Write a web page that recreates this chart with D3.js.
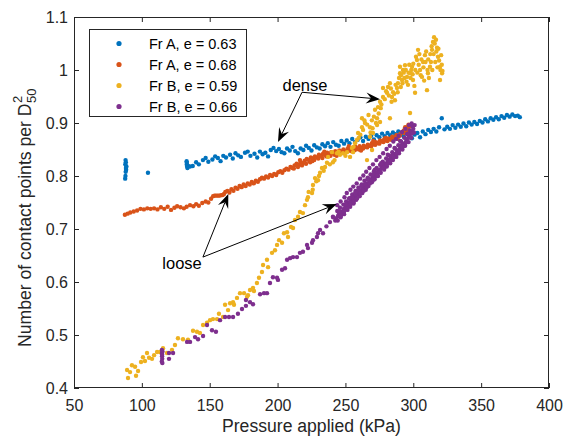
<!DOCTYPE html>
<html><head><meta charset="utf-8">
<script src="https://cdn.jsdelivr.net/npm/d3@7"></script>
<style>body{margin:0;background:#fff}svg{display:block}text{font-family:"Liberation Sans",Arial,sans-serif}</style>
</head><body><svg id="c" width="564" height="440"></svg>
<script>
const xTicks=[50,100,150,200,250,300,350,400];
const yTicks=[0.4,0.5,0.6,0.7,0.8,0.9,1.0,1.1];
const seriesNames=["Fr A, e = 0.63","Fr A, e = 0.68","Fr B, e = 0.59","Fr B, e = 0.66"];
const seriesColors=["#0072BD","#D95319","#EDB120","#7E2F8E"];

const blueData=[[88.0,0.830],[87.8,0.822],[88.3,0.815],[88.1,0.808],[87.9,0.800],[88.4,0.812],[88.6,0.818],[87.7,0.795],[88.2,0.826],
[104.5,0.806],
[133.0,0.828],[133.2,0.822],[133.4,0.818],[133.1,0.825],[133.6,0.815],[133.3,0.820],[134.0,0.819],[135.5,0.818],[137.5,0.819],
[140,0.826],[142,0.822],[145,0.830],[147,0.834],[149,0.827],[152,0.831],[154,0.837],[156,0.834],[158,0.828],[160,0.838],[162,0.835],[165,0.840],[167,0.833],[169,0.843],[171,0.839],[173,0.836],[176,0.844],[178,0.846],[180,0.838],[183,0.842],[185,0.835],[187,0.846],[189,0.841],[191,0.844],[193,0.837],[195,0.849],[197,0.853],[199,0.847],[201,0.851],[203,0.845],[205,0.843],[207,0.852],[209,0.848],[211,0.855],[213,0.847],[215,0.843],[217,0.852],[219,0.849],[221,0.857],[223,0.853],[225,0.848],[227,0.858],[229,0.854],[231,0.852],[233,0.860],[235,0.856],[237,0.862],[239,0.855],[241,0.864],[243,0.859],[245,0.857],[247,0.866],[249,0.861],[251,0.867],[253,0.862],[255,0.870],[257,0.864],[259,0.868],[261,0.873],[263,0.866],[265,0.874],[267,0.870],[269,0.876],[271,0.869],[273,0.877],[275,0.873],[277,0.880],[279,0.875],[281,0.881],[283,0.877],[285,0.882],[287,0.879],[289,0.884],[291,0.878],[293,0.874],[295,0.882],[297,0.876],[299,0.871],[301,0.878],[303,0.881],[305,0.873],[307,0.884],[309,0.879],[311,0.887],[313,0.883],[315,0.889],[317,0.884],[319,0.892],[321,0.909],[323,0.888],[325,0.893],[327,0.889],[329,0.896],[331,0.891],[333,0.897],[335,0.893],[337,0.899],[339,0.894],[341,0.901],[343,0.897],[345,0.902],[347,0.898],[349,0.904],[351,0.901],[353,0.907],[355,0.903],[357,0.909],[359,0.906],[361,0.911],[363,0.907],[365,0.913],[367,0.910],[369,0.915],[371,0.912],[373,0.916],[375,0.913],[377,0.914],[378.5,0.911]];

const orangeData=[[87.5,0.727],[89.5,0.729],[91.5,0.731],[94,0.733],[96.5,0.735],[99,0.738],[101.5,0.737],[104,0.739],[106.5,0.738],[109,0.739],[111.5,0.737],[114,0.741],[116.5,0.738],[119,0.742],[121.5,0.736],[124,0.740],[126,0.743],[128.5,0.741],[131,0.739],[133,0.742],[135.5,0.745],[138,0.743],[140,0.747],[142,0.744],[144.5,0.749],[147,0.752],[149,0.750],[151,0.757],[152.5,0.762],[153.5,0.763],[154.5,0.763],[155.5,0.763],[156.5,0.763],[157.5,0.763],[158.5,0.764],[159.5,0.764],[160.5,0.766],[161.5,0.770],[163,0.772],[164.5,0.769],[166,0.775],[167.5,0.772],[169,0.778],[170.5,0.776],[172,0.781],[173.5,0.779],[175,0.784],[176.5,0.781],[178,0.786],[179.5,0.784],[181,0.789],[182.5,0.786],[184,0.791],[185.5,0.789],[187,0.794],[188.5,0.797],[190,0.795],[191.5,0.799],[193,0.797],[194.5,0.802],[196,0.800],[197.5,0.804],[199,0.802],[200.5,0.807],[202,0.809],[203.5,0.806],[205,0.811],[206.5,0.814],[208,0.812],[209.5,0.817],[211,0.815],[212.5,0.820],[214,0.823],[215.5,0.821],[217,0.826],[218.5,0.824],[220,0.829],[221.5,0.832],[223,0.830],[224.5,0.835],[226,0.833],[227.5,0.837],[229,0.835],[230.5,0.840],[232,0.838],[233.5,0.842],[235,0.840],[236.5,0.844],[238,0.841],[239.5,0.845],[241,0.843],[242.5,0.847],[244,0.844],[245.5,0.848],[247,0.846],[248.5,0.850],[250,0.847],[251.5,0.851],[253,0.849],[254.5,0.853],[256,0.850],[257.5,0.855],[259,0.852],[260.5,0.856],[262,0.853],[263.5,0.857],[265,0.855],[266.5,0.859],[268,0.857],[269.5,0.862],[271,0.860],[272.5,0.864],[274,0.862],[275.5,0.867],[277,0.865],[278.5,0.869],[280,0.867],[281.5,0.871],[283,0.869],[284.5,0.874],[286,0.872],[287.5,0.877],[289,0.875],[290.5,0.880],[292,0.883],[293.5,0.881],[295,0.886],[296,0.890],[297,0.893],[295.5,0.892],[293,0.886],[290,0.876],[287,0.872],[284,0.869],[281,0.866],[278,0.864],[275,0.861],[272,0.859],[269,0.856],[266,0.854],[263,0.852],[260,0.850],[257,0.849],[254,0.847],[251,0.846],[248,0.844],[245,0.842],[242,0.840],[239,0.838],[236,0.837],[233,0.834],[230,0.833],[227,0.830],[224,0.826],[221,0.823],[218,0.820],[215,0.817],[212,0.814],
[216.5,0.830],[225.5,0.828],[234.5,0.846],[243.5,0.838],[252.5,0.856],[261.5,0.848],[270.5,0.866],[279.5,0.872],[288.5,0.870],[294,0.892],[296.5,0.897]];

const yellowData=[[89.1,0.434],[91.3,0.430],[89.8,0.419],[92.7,0.443],[95.0,0.440],[95.7,0.423],[97.2,0.432],[99.4,0.449],[100.8,0.458],[102.3,0.451],[103.8,0.466],[105.3,0.457],[107.5,0.455],[109.0,0.462],[111.2,0.468],[113.4,0.468],[115.6,0.475],[118.5,0.466],[122.2,0.472],[124.4,0.481],[126.6,0.494],[130.3,0.492],[134.0,0.491],[137.7,0.508],[140.6,0.506],[142.8,0.504],[145.1,0.519],[148.0,0.523],[150.2,0.528],[152.4,0.530],[155.4,0.530],[156.8,0.540],[159.8,0.534],[161.3,0.557],[163.5,0.547],[165.0,0.560],[167.2,0.562],[167.9,0.557],[170.1,0.570],[172.3,0.579],[175.3,0.579],[177.5,0.572],[178.2,0.575],[179.7,0.585],[181.9,0.589],[182.6,0.583],[184.8,0.598],[186.3,0.608],[188.5,0.619],[189.3,0.632],[192.2,0.642],[193.0,0.628],[195.9,0.655],[198.1,0.660],[199.6,0.670],[201.1,0.679],[203.3,0.674],[204.7,0.692],[207.0,0.694],[207.7,0.685],[209.9,0.704],[211.4,0.702],[212.8,0.717],[215.1,0.723],[216.5,0.732],[218.7,0.730],[220.2,0.745],[221.7,0.755],[222.4,0.760],[222.9,0.770],[225.4,0.768],[225.9,0.774],[226.1,0.783],[227.6,0.796],[228.5,0.790],[229.8,0.792],[230.5,0.800],[231.3,0.806],[232.7,0.815],[234.0,0.810],[235.0,0.817],[236.4,0.825],[237.2,0.836],[238.5,0.822],[240.1,0.845],[240.8,0.826],[242.0,0.830],[243.8,0.843],[245.0,0.846],[246.0,0.840],[248.2,0.843],[250.0,0.838],[251.2,0.845],[253.4,0.836],[254.8,0.853],[255.6,0.845],[256.0,0.855],[257.1,0.862],[258.5,0.868],[259.3,0.881],[259.8,0.872],[261.0,0.878],[262.2,0.892],[263.0,0.887],[262.2,0.909],[264.0,0.905],[264.4,0.900],[265.9,0.830],[266.0,0.897],[267.0,0.915],[268.1,0.874],[268.1,0.892],[268.5,0.882],[269.6,0.849],[269.5,0.905],[270.0,0.890],[270.3,0.881],[271.0,0.912],[271.8,0.925],[272.5,0.900],[273.3,0.896],[273.3,0.909],[274.0,0.930],[274.5,0.918],[275.5,0.902],[275.5,0.940],[276.0,0.928],[276.5,0.935],[277.7,0.949],[277.7,0.966],[279.0,0.945],[280.0,0.960],[280.6,0.957],[281.4,0.968],[282.0,0.952],[282.8,0.975],[282.8,0.909],[283.5,0.965],[284.0,0.940],[284.3,0.949],[285.1,0.958],[286.0,0.955],[286.5,0.943],[287.0,0.972],[288.0,0.966],[288.5,0.958],[288.7,0.975],[289.5,0.985],[290.2,0.994],[290.2,1.006],[290.8,0.968],[291.0,0.990],[291.7,0.981],[292.0,0.975],[292.4,1.000],[293.0,0.995],[293.5,0.985],[293.9,1.009],[294.5,1.000],[295.0,0.978],[295.4,0.987],[296.1,0.972],[296.5,0.995],[297.0,1.010],[297.6,0.994],[297.6,0.919],[298.0,0.985],[298.5,1.000],[299.1,1.006],[299.5,0.992],[299.8,0.981],[300.0,1.012],[300.8,0.970],[301.3,0.957],[301.5,1.000],[302.0,1.025],[302.7,1.019],[303.0,0.995],[303.5,1.038],[304.0,1.010],[304.5,1.030],[305.0,1.000],[305.5,0.990],[306.0,1.020],[306.4,0.987],[307.2,1.015],[307.5,1.005],[308.0,0.980],[308.6,1.028],[309.0,1.015],[309.5,1.035],[310.1,0.962],[310.5,1.000],[310.8,0.994],[311.0,1.020],[311.5,0.985],[312.3,1.006],[312.5,1.030],[313.0,1.015],[313.5,1.045],[313.8,1.038],[314.0,1.000],[314.5,1.053],[315.0,1.030],[315.3,1.062],[315.8,1.050],[316.2,1.015],[316.7,1.057],[317.0,1.035],[317.5,1.042],[317.8,1.005],[318.2,1.025],[318.5,1.040],[319.0,1.018],[319.7,1.006],[319.7,0.981],[320.0,1.000],[320.5,1.028],[321.0,1.010],[321.2,0.994],[321.5,0.998]];

const purpleData=[[114.8,0.472],[114.8,0.466],[114.9,0.460],[115.0,0.455],[114.7,0.450],[115.1,0.447],[114.9,0.463],[115.2,0.469],[120.0,0.466],[120.0,0.455],[123.0,0.466],[133.3,0.487],[135.5,0.487],[139.2,0.496],[141.4,0.492],[145.1,0.498],[148.0,0.519],[151.7,0.509],[154.6,0.506],[157.6,0.528],[161.3,0.534],[164.2,0.534],[167.2,0.534],[170.8,0.540],[173.8,0.549],[176.7,0.555],[176.7,0.566],[179.7,0.562],[181.9,0.558],[187.1,0.577],[190.0,0.579],[192.2,0.579],[194.4,0.598],[196.6,0.609],[199.6,0.608],[200.3,0.604],[203.3,0.623],[205.5,0.626],[207.0,0.642],[209.2,0.645],[211.4,0.647],[214.3,0.647],[216.5,0.655],[218.7,0.657],[221.7,0.670],[222.4,0.664],[225.4,0.674],[226.1,0.679],[229.0,0.685],[229.8,0.692],[231.3,0.698],[233.5,0.692],[236.0,0.705],[238.6,0.713],[240.8,0.723],
[243,0.720],[244,0.734],[245,0.727],[246,0.740],[246.5,0.722],[247.5,0.733],[248.5,0.746],[249,0.728],[250,0.740],[250.5,0.752],[251.5,0.736],[252,0.748],[253,0.758],[253.5,0.742],[254.5,0.753],[255,0.765],[256,0.748],[256.5,0.760],[257.5,0.772],[258,0.755],[259,0.766],[259.5,0.778],[260.5,0.762],[261,0.773],[262,0.784],[262.5,0.768],[263.5,0.779],[264,0.791],[265,0.774],[265.5,0.786],[266.5,0.797],[267,0.781],[268,0.792],[268.5,0.803],[269.5,0.788],[270,0.799],[271,0.809],[271.5,0.794],[272.5,0.805],[273,0.815],[274,0.800],[274.5,0.811],[275.5,0.821],[276,0.806],[277,0.817],[277.5,0.827],[278.5,0.812],[279,0.823],[280,0.833],[280.5,0.818],[281.5,0.829],[282,0.839],[283,0.824],[283.5,0.835],[284.5,0.845],[285,0.830],[286,0.841],[286.5,0.852],[287.5,0.836],[288,0.848],[289,0.858],[289.5,0.843],[290.5,0.854],[291,0.865],[292,0.850],[292.5,0.861],[293.5,0.872],[294,0.857],[295,0.868],[295.5,0.879],[296.5,0.864],[297,0.876],[297.5,0.886],[298.5,0.872],[299,0.884],[299.5,0.894],[300.5,0.882],[301,0.896],[300,0.889],[298,0.880],[296,0.871],[294.5,0.863],[292.8,0.856],[291.2,0.858],[289.8,0.850],[287.8,0.842],[285.8,0.836],[284,0.838],[282.5,0.831],[280.8,0.825],[279,0.817],[277.2,0.821],[275.8,0.813],[274,0.807],[272.2,0.799],[270.5,0.803],[269,0.794],[267.2,0.787],[265.8,0.781],[264,0.784],[262.8,0.776],[261,0.768],[259.2,0.772],[257.8,0.764],[256.2,0.755],[254.8,0.760],[253.2,0.750],[251.8,0.744],[250.2,0.746],[248.8,0.738],[247.2,0.730],[245.5,0.733],[244.5,0.724],[242.5,0.716],[241,0.722],
[244,0.745],[244.3,0.716],[246.5,0.752],[246.8,0.726],[249,0.733],[249.3,0.760],[251,0.768],[251.3,0.739],[253.7,0.774],[253.9,0.747],[255.8,0.780],[256.1,0.751],[258.3,0.786],[258.6,0.758],[260.8,0.795],[261.1,0.767],[263.2,0.801],[263.5,0.772],[265.3,0.808],[265.6,0.779],[267.7,0.815],[268,0.786],[270.3,0.822],[270.6,0.793],[272.8,0.830],[273.1,0.801],[275.2,0.836],[275.5,0.807],[277.8,0.843],[278.1,0.815],[280.3,0.851],[280.6,0.822],[282.7,0.857],[283,0.829],[285.3,0.865],[285.6,0.836],[287.3,0.870],[287.6,0.843],[289.2,0.876],[289.5,0.848],[291.7,0.883],[292,0.856],[294.2,0.889],[294.5,0.864],[296.8,0.896],[297.1,0.873],[298.8,0.899],[299.1,0.880],
[252.7,0.757],[257.3,0.769],[261.7,0.781],[266.2,0.794],[271.7,0.812],[276.3,0.824],[281.2,0.840],[286.2,0.853],[290.3,0.866],[295.8,0.880]];

const allSeries=[blueData,orangeData,yellowData,purpleData];

// annotations in data units
const annoTexts=[{t:"dense",at:[220.2,0.972]},{t:"loose",at:[129.6,0.636]}];
const annoArrows=[
 {from:[218,0.958],to:[275.5,0.945]},
 {from:[218,0.958],to:[200.3,0.864]},
 {from:[145,0.647],to:[163.7,0.766]},
 {from:[145,0.647],to:[243.6,0.747]}
];

const svg=d3.select("#c");
const L=74,R=549,T=17,B=388;
const x=d3.scaleLinear().domain([50,400]).range([L,R]);
const y=d3.scaleLinear().domain([0.4,1.1]).range([B,T]);
const ink="#262626";

allSeries.forEach((s,i)=>{
  svg.append("g").selectAll("circle").data(s).join("circle")
    .attr("cx",d=>x(d[0])).attr("cy",d=>y(d[1])).attr("r",2.2)
    .attr("fill",seriesColors[i]);
});

function styleAxis(g){g.select(".domain").remove();g.selectAll("line").attr("stroke",ink);g.selectAll("text").attr("fill",ink).attr("font-size","16px").attr("font-family","Liberation Sans, Arial, sans-serif");}
svg.append("g").attr("transform",`translate(0,${B})`).call(d3.axisBottom(x).tickValues(xTicks).tickSize(-5).tickSizeOuter(0).tickPadding(12)).call(styleAxis);
svg.append("g").attr("transform",`translate(0,${T})`).call(d3.axisTop(x).tickValues(xTicks).tickSize(-5).tickSizeOuter(0).tickFormat("")).call(styleAxis);
svg.append("g").attr("transform",`translate(${L},0)`).call(d3.axisLeft(y).tickValues(yTicks).tickSize(-5).tickSizeOuter(0).tickPadding(6).tickFormat(d=>String(+d.toFixed(1)))).call(styleAxis);
svg.append("g").attr("transform",`translate(${R},0)`).call(d3.axisRight(y).tickValues(yTicks).tickSize(-5).tickSizeOuter(0).tickFormat("")).call(styleAxis);
svg.append("rect").attr("x",L+0.5).attr("y",T+0.5).attr("width",R-L-1).attr("height",B-T-1).attr("fill","none").attr("stroke",ink).attr("stroke-width",1);

svg.append("text").attr("x",(L+R)/2).attr("y",432).attr("text-anchor","middle").attr("font-size","17.6px").attr("fill",ink).text("Pressure applied (kPa)");
const yl=svg.append("g").attr("transform","translate(31,347) rotate(-90)");
const ymain=yl.append("text").attr("x",0).attr("y",0).attr("font-size","17.6px").attr("fill",ink).text("Number of contact points per D");
const len=ymain.node().getComputedTextLength();
yl.append("text").attr("x",len+0.5).attr("y",5).attr("font-size","13px").attr("fill",ink).text("50");
yl.append("text").attr("x",len+0.5).attr("y",-9).attr("font-size","13px").attr("fill",ink).text("2");

annoTexts.forEach(a=>{
  svg.append("text").attr("x",x(a.at[0])).attr("y",y(a.at[1])).attr("text-anchor","middle").attr("dy","0.35em").attr("font-size","16.5px").attr("fill","#000").text(a.t);
});
annoArrows.forEach(a=>{
  const x0=x(a.from[0]),y0=y(a.from[1]),x1=x(a.to[0]),y1=y(a.to[1]);
  const ang=Math.atan2(y1-y0,x1-x0);
  const hl=14,hw=5.5,notch=9;
  const c=Math.cos(ang),s=Math.sin(ang);
  const bx=x1-hl*c,by=y1-hl*s;
  const nx=x1-notch*c,ny=y1-notch*s;
  svg.append("line").attr("x1",x0).attr("y1",y0).attr("x2",nx).attr("y2",ny).attr("stroke","#000").attr("stroke-width",1);
  const pts=[[x1,y1],[bx-hw*s,by+hw*c],[nx,ny],[bx+hw*s,by-hw*c]];
  svg.append("polygon").attr("points",pts.map(p=>p.join(",")).join(" ")).attr("fill","#000");
});

const lg=svg.append("g");
lg.append("rect").attr("x",89.5).attr("y",29.5).attr("width",157).attr("height",87).attr("fill","#fff").attr("stroke",ink).attr("stroke-width",1);
seriesNames.forEach((n,i)=>{
  const yy=43.5+i*21;
  lg.append("circle").attr("cx",119).attr("cy",yy).attr("r",2.6).attr("fill",seriesColors[i]);
  lg.append("text").attr("x",149).attr("y",yy).attr("dy","0.35em").attr("font-size","14.5px").attr("fill","#000").text(n);
});
</script></body></html>
